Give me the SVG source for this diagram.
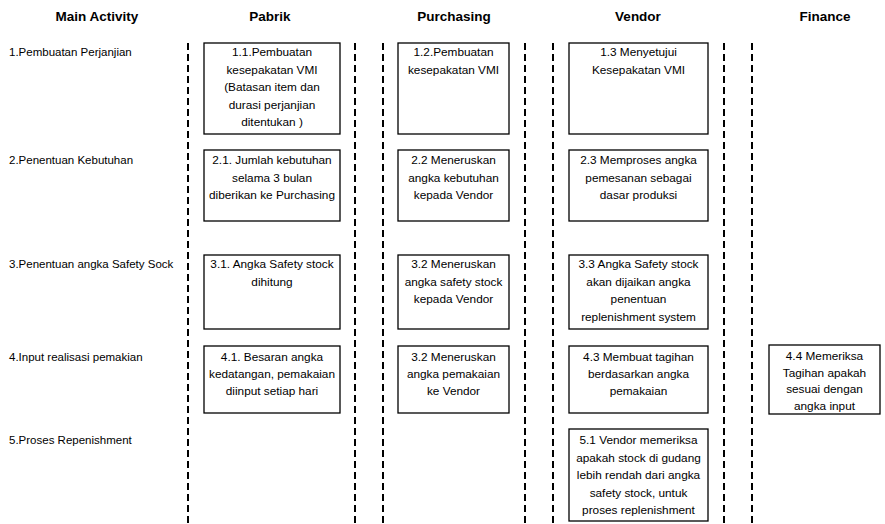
<svg xmlns="http://www.w3.org/2000/svg" width="885" height="524" viewBox="0 0 885 524">
<style>
.hd{font-family:"Liberation Sans",Arial,sans-serif;font-size:13.5px;font-weight:bold;fill:#000;text-anchor:middle}
.lb{font-family:"Liberation Sans",Arial,sans-serif;font-size:11.5px;fill:#000}
.bx{fill:#fff;stroke:#000;stroke-width:1.3}
.tx{font-family:"Liberation Sans",Arial,sans-serif;font-size:11.8px;fill:#000;text-anchor:middle}
.dl{stroke:#000;stroke-width:2;stroke-dasharray:7 4;fill:none}
</style>
<rect width="885" height="524" fill="#fff"/>
<g id="headers">
<text class="hd" x="97" y="21">Main Activity</text>
<text class="hd" x="270" y="21">Pabrik</text>
<text class="hd" x="454" y="21">Purchasing</text>
<text class="hd" x="638" y="21">Vendor</text>
<text class="hd" x="825" y="21">Finance</text>
</g>
<g id="activities">
<text class="lb" x="9" y="56">1.Pembuatan Perjanjian</text>
<text class="lb" x="9" y="164">2.Penentuan Kebutuhan</text>
<text class="lb" x="9" y="268">3.Penentuan angka Safety Sock</text>
<text class="lb" x="9" y="361">4.Input realisasi pemakian</text>
<text class="lb" x="9" y="444">5.Proses Repenishment</text>
</g>
<g id="lanes">
<line class="dl" x1="188" y1="43" x2="188" y2="524"/>
<line class="dl" x1="355" y1="43" x2="355" y2="524"/>
<line class="dl" x1="383" y1="43" x2="383" y2="524"/>
<line class="dl" x1="525" y1="43" x2="525" y2="524"/>
<line class="dl" x1="553" y1="43" x2="553" y2="524"/>
<line class="dl" x1="724" y1="43" x2="724" y2="524"/>
<line class="dl" x1="752" y1="43" x2="752" y2="524"/>
</g>
<g id="n1_1"><rect class="bx" x="204" y="43" width="136" height="91"/>
<text class="tx" x="272" y="56">1.1.Pembuatan</text><text class="tx" x="272" y="73.5">kesepakatan VMI</text><text class="tx" x="272" y="91">(Batasan item dan</text><text class="tx" x="272" y="108.5">durasi perjanjian</text><text class="tx" x="272" y="126">ditentukan )</text></g>
<g id="n1_2"><rect class="bx" x="398" y="43" width="111" height="91"/>
<text class="tx" x="453.5" y="56">1.2.Pembuatan</text><text class="tx" x="453.5" y="73.5">kesepakatan VMI</text></g>
<g id="n1_3"><rect class="bx" x="569" y="43" width="139" height="91"/>
<text class="tx" x="638.5" y="56">1.3 Menyetujui</text><text class="tx" x="638.5" y="73.5">Kesepakatan VMI</text></g>
<g id="n2_1"><rect class="bx" x="204" y="150" width="136" height="71"/>
<text class="tx" x="272" y="164">2.1. Jumlah kebutuhan</text><text class="tx" x="272" y="181.5">selama 3 bulan</text><text class="tx" x="272" y="199">diberikan ke Purchasing</text></g>
<g id="n2_2"><rect class="bx" x="398" y="150" width="111" height="71"/>
<text class="tx" x="453.5" y="164">2.2 Meneruskan</text><text class="tx" x="453.5" y="181.5">angka kebutuhan</text><text class="tx" x="453.5" y="199">kepada Vendor</text></g>
<g id="n2_3"><rect class="bx" x="569" y="150" width="139" height="71"/>
<text class="tx" x="638.5" y="164">2.3 Memproses angka</text><text class="tx" x="638.5" y="181.5">pemesanan sebagai</text><text class="tx" x="638.5" y="199">dasar produksi</text></g>
<g id="n3_1"><rect class="bx" x="204" y="255" width="136" height="74"/>
<text class="tx" x="272" y="268">3.1. Angka Safety stock</text><text class="tx" x="272" y="285.5">dihitung</text></g>
<g id="n3_2"><rect class="bx" x="398" y="255" width="111" height="74"/>
<text class="tx" x="453.5" y="268">3.2 Meneruskan</text><text class="tx" x="453.5" y="285.5">angka safety stock</text><text class="tx" x="453.5" y="303">kepada Vendor</text></g>
<g id="n3_3"><rect class="bx" x="569" y="255" width="139" height="74"/>
<text class="tx" x="638.5" y="268">3.3 Angka Safety stock</text><text class="tx" x="638.5" y="285.5">akan dijaikan angka</text><text class="tx" x="638.5" y="303">penentuan</text><text class="tx" x="638.5" y="320.5">replenishment system</text></g>
<g id="n4_1"><rect class="bx" x="204" y="346" width="136" height="67"/>
<text class="tx" x="272" y="361">4.1. Besaran angka</text><text class="tx" x="272" y="378">kedatangan, pemakaian</text><text class="tx" x="272" y="395">diinput setiap hari</text></g>
<g id="n4_2"><rect class="bx" x="398" y="346" width="111" height="67"/>
<text class="tx" x="453.5" y="361">3.2 Meneruskan</text><text class="tx" x="453.5" y="378">angka pemakaian</text><text class="tx" x="453.5" y="395">ke Vendor</text></g>
<g id="n4_3"><rect class="bx" x="569" y="346" width="139" height="67"/>
<text class="tx" x="638.5" y="361">4.3 Membuat tagihan</text><text class="tx" x="638.5" y="378">berdasarkan angka</text><text class="tx" x="638.5" y="395">pemakaian</text></g>
<g id="n4_4"><rect class="bx" x="769" y="345" width="111" height="69"/>
<text class="tx" x="824.5" y="360">4.4 Memeriksa</text><text class="tx" x="824.5" y="376.5">Tagihan apakah</text><text class="tx" x="824.5" y="393">sesuai dengan</text><text class="tx" x="824.5" y="409.5">angka input</text></g>
<g id="n5_1"><rect class="bx" x="569" y="429" width="139" height="92"/>
<text class="tx" x="638.5" y="444">5.1 Vendor memeriksa</text><text class="tx" x="638.5" y="461.5">apakah stock di gudang</text><text class="tx" x="638.5" y="479">lebih rendah dari angka</text><text class="tx" x="638.5" y="496.5">safety stock, untuk</text><text class="tx" x="638.5" y="514">proses replenishment</text></g>
</svg>
